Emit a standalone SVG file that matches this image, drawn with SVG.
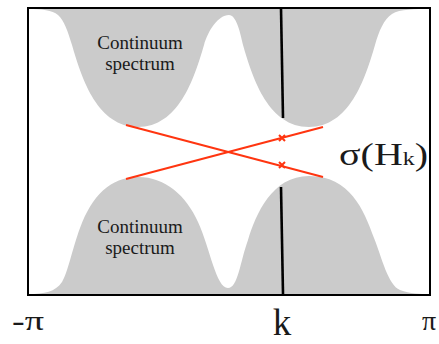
<svg xmlns="http://www.w3.org/2000/svg" width="439" height="344" viewBox="0 0 439 344">
<style>
.band{fill:#cbcbcb;stroke:none}
.lbl{font-family:"Liberation Serif","Times New Roman",serif;fill:#1a1a1a}
.red{stroke:#ff3510;stroke-width:2;fill:none}
.kline{stroke:#000;stroke-width:2.6;fill:none}
</style>
<rect width="439" height="344" fill="#fff"/>
<g id="upper-band">
<path class="band" d="M28,8 L28,9 C42,9 52,10 58,15 C64,20 68,32 72,45 C82,80 98,127 138,127 C178,127 194,80 204,45 C208,31 218,15 229,15 C236,15 240,31 243,45 C253,80 269,127 309,127 C349,127 365,80 375,45 C379,31 384,19 392,14 C400,9 415,9 430,9 L430,8 Z"/>
<text class="lbl" x="140" y="49" font-size="19" text-anchor="middle">Continuum</text>
<text class="lbl" x="140" y="70" font-size="19" text-anchor="middle">spectrum</text>
</g>
<g id="lower-band">
<path class="band" d="M28,295 L28,294 C45,294 55,292 62,282 C68,272 72,250 80,228 C92,196 110,177 138,177 C166,177 186,196 198,222 C210,248 216,288 228,288 C238,288 240,262 248,240 C256,214 272,176 309,176 C350,176 364,210 374,238 C382,258 388,285 400,290 C410,294 420,294 430,294 L430,295 Z"/>
<text class="lbl" x="140" y="233" font-size="19" text-anchor="middle">Continuum</text>
<text class="lbl" x="140" y="254" font-size="19" text-anchor="middle">spectrum</text>
</g>
<g id="frame">
<rect x="28" y="8" width="402" height="287" fill="none" stroke="#000" stroke-width="2"/>
</g>
<g id="connectors">
<line class="kline" x1="281" y1="8" x2="283" y2="118"/>
<line class="kline" x1="281" y1="187" x2="283" y2="294"/>
<line class="red" x1="126" y1="125" x2="323" y2="177"/>
<line class="red" x1="126" y1="179" x2="323" y2="127"/>
<path class="red" stroke-width="1.6" d="M279,135 L285,141 M285,135 L279,141 M279,162 L285,168 M285,162 L279,168"/>
</g>
<g id="spectrum-label">
<text class="lbl" x="339" y="165" font-size="32" textLength="89" lengthAdjust="spacingAndGlyphs">σ(H<tspan font-size="19">k</tspan>)</text>
</g>
<g id="axis-labels">
<text class="lbl" x="12" y="330" font-size="28" textLength="32" lengthAdjust="spacingAndGlyphs"><tspan font-weight="bold">-</tspan>π</text>
<text class="lbl" x="282" y="335" font-size="37" text-anchor="middle">k</text>
<text class="lbl" x="422" y="330" font-size="28">π</text>
</g>
</svg>
